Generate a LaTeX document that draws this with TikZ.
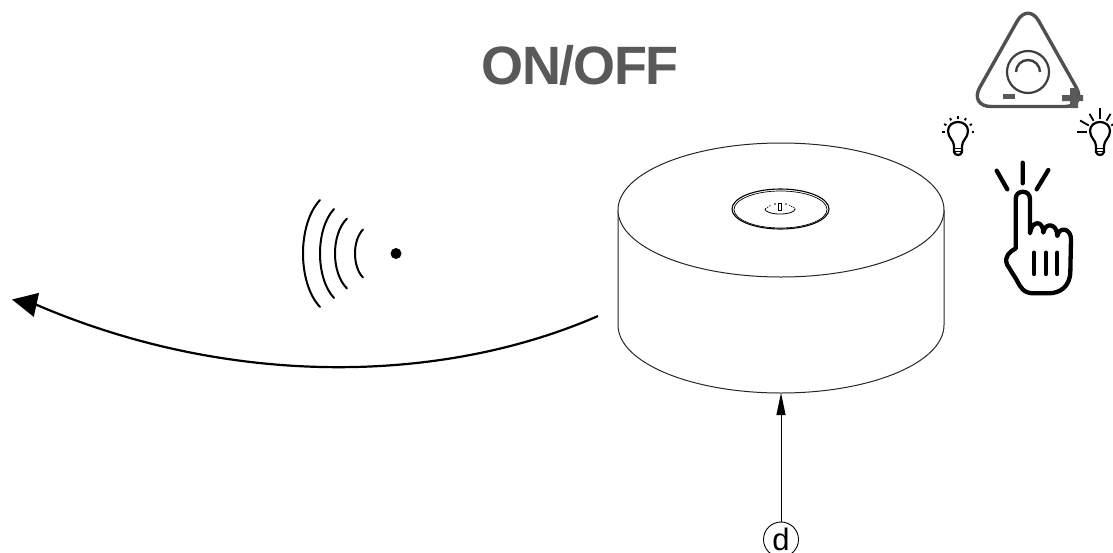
\documentclass[tikz,border=0pt]{standalone}
\usepackage{fontspec}
\setmainfont{Liberation Sans}
\usetikzlibrary{arrows.meta}
\definecolor{labelgray}{HTML}{58595B}
\tikzset{
  thinline/.style={line width=1pt, draw=black!85},
  panelline/.style={line width=3.4pt, draw=labelgray!90!black},
  handline/.style={line width=4.3pt, line cap=round, line join=round},
  bulbline/.style={line width=2.2pt, line cap=round, line join=round},
  waveline/.style={line width=2pt, line cap=round}
}
\newcommand{\bulbshape}{
  \draw[bulbline] (-4,14) .. controls (-4,8) and (-10,6) .. (-10,-1)
    .. controls (-10,-7) and (-5,-10) .. (0,-10)
    .. controls (5,-10) and (10,-7) .. (10,-1)
    .. controls (10,6) and (4,8) .. (4,14) -- (4,20)
    .. controls (3,24) and (-3,24) .. (-4,20) -- cycle;
  \draw[line width=1.4pt] (-4,16.5) -- (4,16.5) (-4,19.5) -- (4,19.5);
}
\begin{document}
\begin{tikzpicture}[x=1pt, y=-1pt]
  \useasboundingbox (0,0) rectangle (1113,552);

  % title
  \node[font=\fontsize{54}{54}\bfseries, text=labelgray, inner sep=0pt, anchor=base] (title) at (580,84.5) {\addfontfeature{LetterSpace=-2.4}ON/OFF};

  % device body
  \draw[thinline] (618,210) -- (618,325) arc[start angle=180, end angle=0, x radius=163, y radius=68] -- (944,210);
  \draw[thinline, fill=white] (781,210) ellipse[x radius=163, y radius=67];
  \coordinate (bodybottom) at (781,393);

  % button on top
  \draw[line width=1.1pt] (780.5,209) ellipse[x radius=48.5, y radius=20];
  \draw[line width=0.7pt] (780.5,209.5) ellipse[x radius=46.5, y radius=18.5];
  \draw[line width=0.8pt] (765,209) arc[start angle=180, end angle=0, x radius=15, y radius=5];
  \draw[line width=0.6pt, dash pattern=on 1.5pt off 1pt] (765,209) -- (771,205) (789,205) -- (796,209);
  \draw[line width=1pt, fill=white] (778.5,203) rectangle (781.5,210);
  \fill (775,204) circle (0.9pt) (786,204) circle (0.9pt);

  % wireless signal
  \fill (396,253.5) circle (5.5pt);
  \foreach \ex/\dy/\lx in {320/53.5/303, 334/44.5/320, 347/35/335, 363/24/355} {
    \draw[waveline] (\ex,253.5-\dy) .. controls ({\ex-(\ex-\lx)*4/3},253.5-\dy*0.55) and ({\ex-(\ex-\lx)*4/3},253.5+\dy*0.55) .. (\ex,253.5+\dy);
  }

  % big arrow
  \coordinate (sendstart) at (598,316);
  \coordinate (sendbend) at (37,305);
  \coordinate (sendend) at (12,299.5);
  \draw[line width=2.2pt, -{Stealth[length=25pt, width=24pt, inset=0pt]}] (sendstart) .. controls (440,385) and (228,387) .. (sendbend) -- (sendend);

  % label d and its arrow
  \node[draw, circle, line width=0.9pt, minimum size=35pt, inner sep=0pt, font=\fontsize{31}{31}\selectfont] (dlabel) at (781,539.5) {d};
  \draw[line width=1pt, -{Stealth[length=22pt, width=9pt, inset=0pt]}] (dlabel) -- (bodybottom);

  % control panel
  \draw[panelline, rounded corners=22pt] (1028,2) -- (1087,106.5) -- (969,106.5) -- cycle;
  \draw[line width=2.2pt, draw=labelgray!70!black] (1028,72) circle (21pt);
  \draw[line width=2.4pt, draw=labelgray!70!black] (1016,72) arc[start angle=180, end angle=360, radius=12];
  \fill[labelgray] (1003,94) rectangle (1015,99);
  \fill[labelgray] (1062,95) rectangle (1083,101) (1070,88) rectangle (1078,108);

  % dim bulb
  \begin{scope}[shift={(958,132)}]
    \bulbshape
    \foreach \a in {-30,-60,-90,-120,-150,0,180} {
      \draw[line width=1.8pt] (\a:13.5) -- (\a:16);
    }
  \end{scope}

  % bright bulb
  \begin{scope}[shift={(1100,132)}]
    \bulbshape
    \foreach \a/\r in {-30/23, -60/21, -90/24, -120/21, -150/23, 180/23} {
      \draw[line width=1.8pt] (\a:13) -- (\a:\r);
    }
  \end{scope}

  % pressing hand
  \begin{scope}[shift={(970,150)}, x=0.3333pt, y=-0.3333pt]
    \draw[handline] (137,295) -- (137,147) .. controls (137,118) and (180,118) .. (180,147) -- (180,250)
      .. controls (185,210) and (220,210) .. (220,248)
      .. controls (225,215) and (262,220) .. (262,258)
      .. controls (268,228) and (303,235) .. (303,268)
      -- (301,365) .. controls (300,410) and (270,430) .. (235,430)
      -- (190,430) .. controls (160,430) and (150,410) .. (140,390)
      -- (112,345) .. controls (100,320) and (120,305) .. (137,295);
    \draw[handline] (192,308) -- (192,372) (228,308) -- (228,372) (262,308) -- (262,372);
    \draw[handline] (158,38) -- (158,100) (80,62) -- (112,118) (235,60) -- (200,118);
  \end{scope}
\end{tikzpicture}
\end{document}
